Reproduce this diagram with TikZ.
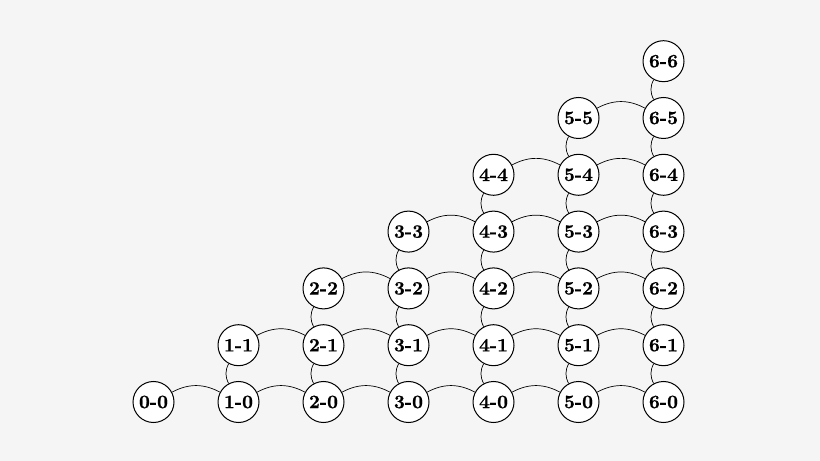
\documentclass[tikz,border=0pt]{standalone}
\usepackage{fontspec}
\newfontfamily\tilefont{lmroman10-bold.otf}[FakeBold=0.8]
\begin{document}
\begin{tikzpicture}[
    x=1bp, y=-1bp,
    every node/.style={font=\tilefont\fontsize{19}{22}\selectfont},
    tile/.style={draw, fill=white, circle, line width=1bp, minimum size=41bp, inner sep=0pt},
    link/.style={line width=0.7bp},
]

    \fill[gray!8] (0, 0) rectangle (820, 461);
    \useasboundingbox (0, 0) rectangle (820, 461);

    % tiles i-j, one column per i
    \foreach \i in {0,...,6} {
        \foreach \j in {0,...,\i} {
            \node[tile] (t\i\j) at (153.5+85*\i, 402-56.8*\j) {\i-\j};
        }
    }

    % arcs along each row
    \foreach \i in {0,...,5} {
        \pgfmathtruncatemacro\k{\i+1}
        \foreach \j in {0,...,\i} {
            \draw[link] (t\i\j) to[bend left=28] (t\k\j);
        }
    }

    % arcs up each column
    \foreach \i in {1,...,6} {
        \pgfmathtruncatemacro\m{\i-1}
        \foreach \j in {0,...,\m} {
            \pgfmathtruncatemacro\n{\j+1}
            \draw[link] (t\i\j) to[bend left=28] (t\i\n);
        }
    }

\end{tikzpicture}
\end{document}
